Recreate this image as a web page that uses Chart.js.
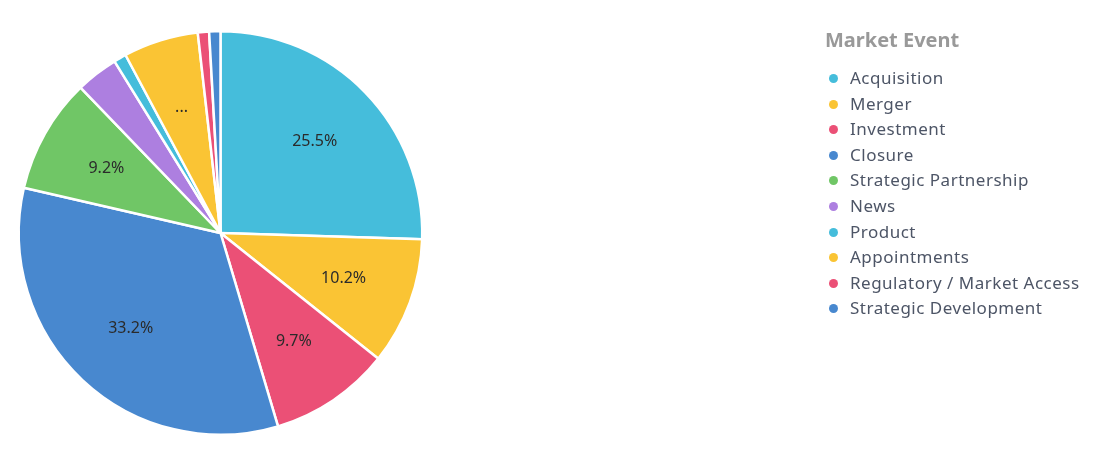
<!DOCTYPE html>
<html>
<head>
<meta charset="utf-8">
<script src="https://cdn.jsdelivr.net/npm/chart.js@4"></script>
<style>
  body { margin: 0; background: #fff; font-family: "Noto Sans", sans-serif; }
  #wrap { position: relative; width: 1095px; height: 450px; }
  #legend { position: absolute; left: 825px; top: 27px; }
  #legend h3 { margin: 0 0 12px 0; height: 26px; line-height: 26px; font-size: 20px; font-weight: bold; color: #999; }
  #legend ul { list-style: none; margin: 0; padding: 0; }
  #legend li { height: 25.6px; line-height: 25.6px; font-size: 17px; letter-spacing: 0.5px; color: #4d5566; white-space: nowrap; }
  #legend li span { display: inline-block; width: 9px; height: 9px; border-radius: 50%; margin: 0 12px 0 4px; vertical-align: 1px; }
</style>
</head>
<body>
<div id="wrap">
  <canvas id="graficoEventos" width="1095" height="450"></canvas>
  <div id="legend"><h3>Market Event</h3><ul id="legendList"></ul></div>
</div>
<script>
const eventos = ['Acquisition', 'Merger', 'Investment', 'Closure', 'Strategic Partnership',
  'News', 'Product', 'Appointments', 'Regulatory / Market Access', 'Strategic Development'];
const porcentajes = [25.5, 10.2, 9.7, 33.2, 9.2, 3.4, 1.0, 6.0, 0.9, 0.9];
const colores = ['#45bddb', '#fac434', '#eb5076', '#4888cf', '#70c666',
  '#ad7fe0', '#45bddb', '#fac434', '#eb5076', '#4888cf'];

// lista de la leyenda
const lista = document.getElementById('legendList');
eventos.forEach((e, i) => {
  const li = document.createElement('li');
  li.innerHTML = '<span style="background:' + colores[i] + '"></span>' + e;
  lista.appendChild(li);
});

const etiquetas = {
  id: 'etiquetas',
  afterDatasetsDraw(chart) {
    const ctx = chart.ctx;
    const meta = chart.getDatasetMeta(0);
    const datos = chart.data.datasets[0].data;
    const total = datos.reduce((a, b) => a + b, 0);
    ctx.save();
    ctx.font = '16px "Noto Sans"';
    ctx.fillStyle = '#2b2b2b';
    ctx.textAlign = 'center';
    ctx.textBaseline = 'middle';
    meta.data.forEach((arc, i) => {
      const pct = datos[i] / total * 100;
      if (pct < 5) return;
      const texto = pct >= 8 ? pct.toFixed(1) + '%' : '...';
      const p = arc.getProps(['x', 'y', 'startAngle', 'endAngle', 'outerRadius'], true);
      const ang = (p.startAngle + p.endAngle) / 2;
      const r = p.outerRadius * 0.65;
      ctx.fillText(texto, p.x + Math.cos(ang) * r, p.y + Math.sin(ang) * r);
    });
    ctx.restore();
  }
};

const ctxEventos = document.getElementById('graficoEventos');

new Chart(ctxEventos, {
  type: 'pie',
  data: {
    labels: eventos,
    datasets: [{
      label: 'Market Event',
      data: porcentajes,
      backgroundColor: colores,
      borderColor: '#fff',
      borderWidth: 2.5
    }]
  },
  options: {
    responsive: false,
    animation: false,
    layout: {
      padding: { left: 0, right: 654, top: 30, bottom: 14 }
    },
    plugins: {
      legend: { display: false },
      tooltip: { enabled: false }
    }
  },
  plugins: [etiquetas]
});
</script>
</body>
</html>
